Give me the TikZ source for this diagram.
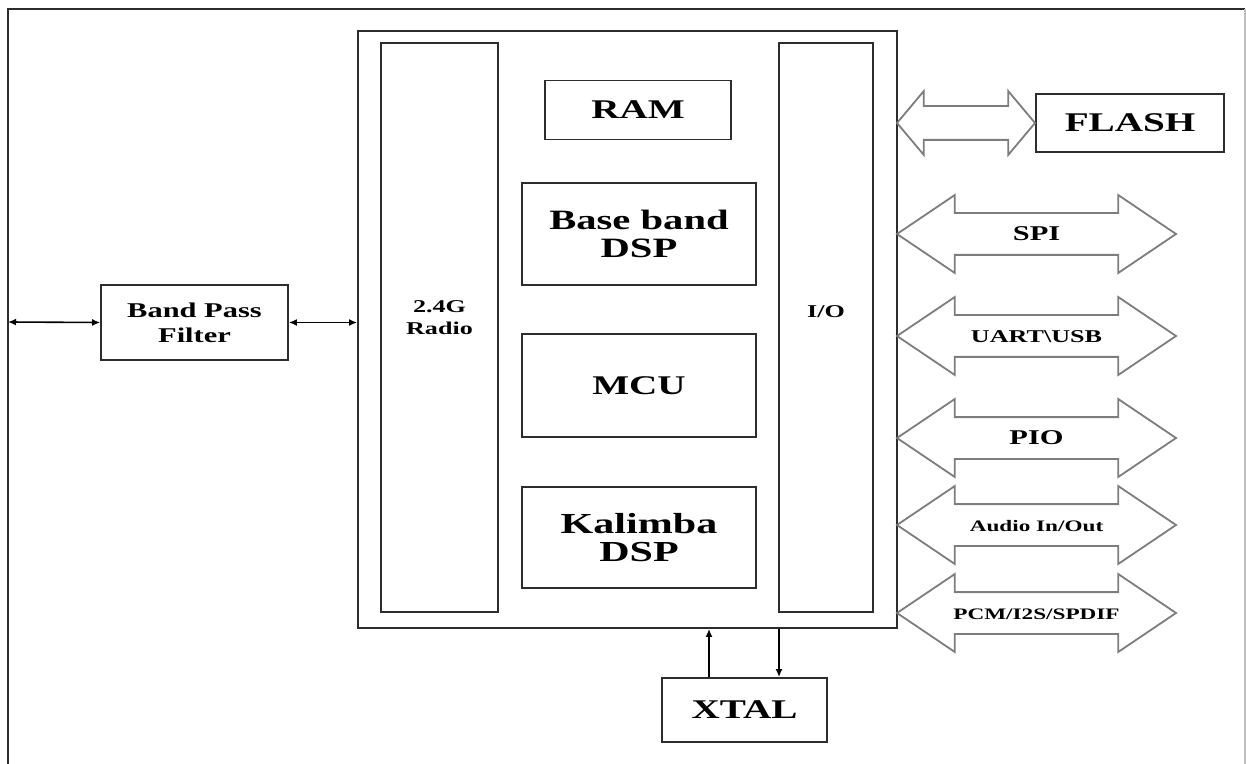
\documentclass[tikz,border=0pt]{standalone}
\usepackage{fontspec}
\setmainfont{Liberation Serif}[FakeStretch=1.45]
\usepackage{xcolor}
\usepackage{tikz}
\usetikzlibrary{shapes.arrows, arrows.meta, positioning, calc}
\definecolor{linegray}{RGB}{45, 45, 45}
\definecolor{busgray}{RGB}{125, 125, 125}
\tikzstyle{block} = [
    rectangle,
    draw=linegray,
    line width=0.9pt,
    inner sep=0pt,
    text centered,
    font=\bfseries
]
\tikzstyle{arrow} = [
    line width=0.8pt,
    <->,
    >={Latex[length=4pt, width=3.5pt]},
    color=black
]
\tikzstyle{bus} = [
    double arrow,
    draw=busgray,
    line width=0.9pt,
    inner xsep=0pt,
    inner ysep=6.8pt,
    text height=6.4pt,
    text depth=0pt,
    double arrow head extend=9pt,
    double arrow tip angle=68,
    minimum height=139.5pt,
    font=\bfseries
]

\begin{document}
\begin{tikzpicture}[x=0.5pt, y=-0.5pt]
        \useasboundingbox (0,0) rectangle (1246,764);
        % Frame
        \draw[linegray, line width=0.9pt] (8,764) -- (8,9) -- (1245,9);
        \draw[gray!50, line width=0.9pt] (1245,9) -- (1245,764);
        \coordinate (ant) at (8,322);

        % Chip
        \node[block, minimum width=269.5pt, minimum height=298.5pt] (chip) at (627.5,329.5) {};
        \node[block, minimum width=58.5pt, minimum height=284.5pt,
            label={[font=\fontsize{9}{11}\selectfont\bfseries, align=center, yshift=4.75pt]center:2.4G\\Radio}] (radio) at (439.5,327.5) {};
        \node[block, minimum width=47pt, minimum height=284.5pt,
            label={[font=\fontsize{9}{11}\selectfont\bfseries, yshift=8pt]center:I/O}] (io) at (826,327.5) {};
        \node[block, minimum width=93pt, minimum height=29.5pt, font=\fontsize{13.5}{14}\selectfont\bfseries] (ram) at (638,110) {RAM};
        \node[block, minimum width=117pt, minimum height=51pt, align=center, font=\fontsize{14}{14}\selectfont\bfseries] (bbdsp) at (639,234) {Base band\\DSP};
        \node[block, minimum width=117pt, minimum height=51.5pt, font=\fontsize{13.5}{14}\selectfont\bfseries] (mcu) at (639,385.5) {MCU};
        \node[block, minimum width=117pt, minimum height=50.5pt, align=center, font=\fontsize{14.5}{14}\selectfont\bfseries] (kdsp) at (639,537.5) {Kalimba\\DSP};

        % Outside blocks
        \node[block, minimum width=93.5pt, minimum height=37.5pt, align=center, font=\fontsize{10.5}{12.5}\selectfont\bfseries] (bpf) at (194.5,322.5) {Band Pass\\Filter};
        \node[block, minimum width=94pt, minimum height=29pt, font=\fontsize{13.5}{14}\selectfont\bfseries] (flash) at (1130,123) {FLASH};
        \node[block, minimum width=82.5pt, minimum height=32pt, font=\fontsize{13.5}{14}\selectfont\bfseries] (xtal) at (744.5,710) {XTAL};

        % Buses
        \node[bus, minimum height=69pt, inner ysep=4.8pt, double arrow head extend=7.5pt, double arrow tip angle=100] (flashbus) at (966,123) {};
        \node[bus, font=\fontsize{10.5}{12}\selectfont\bfseries] (spi) at (1036.5,234) {SPI};
        \node[bus, font=\fontsize{9}{11}\selectfont\bfseries] (uart) at (1036.5,336) {UART\textbackslash USB};
        \node[bus, font=\fontsize{10.5}{12}\selectfont\bfseries] (pio) at (1036.5,438) {PIO};
        \node[bus, font=\fontsize{8}{10}\selectfont\bfseries] (audio) at (1036.5,525) {Audio In/Out};
        \node[bus, font=\fontsize{8}{10}\selectfont\bfseries] (pcm) at (1036.5,613) {PCM/I2S/SPDIF};

        % Arrows
        \draw[arrow] (ant) -- (bpf.west);
        \draw[arrow] (bpf.east) -- (bpf.east -| chip.west);
        \coordinate (xin) at ($(xtal.north)+(-35.5,0)$);
        \coordinate (xout) at ($(xtal.north)+(34.5,0)$);
        \draw[arrow, ->] (xin) -- (xin |- chip.south);
        \draw[arrow, ->] (xout |- chip.south) -- (xout);
    \end{tikzpicture}
\end{document}
